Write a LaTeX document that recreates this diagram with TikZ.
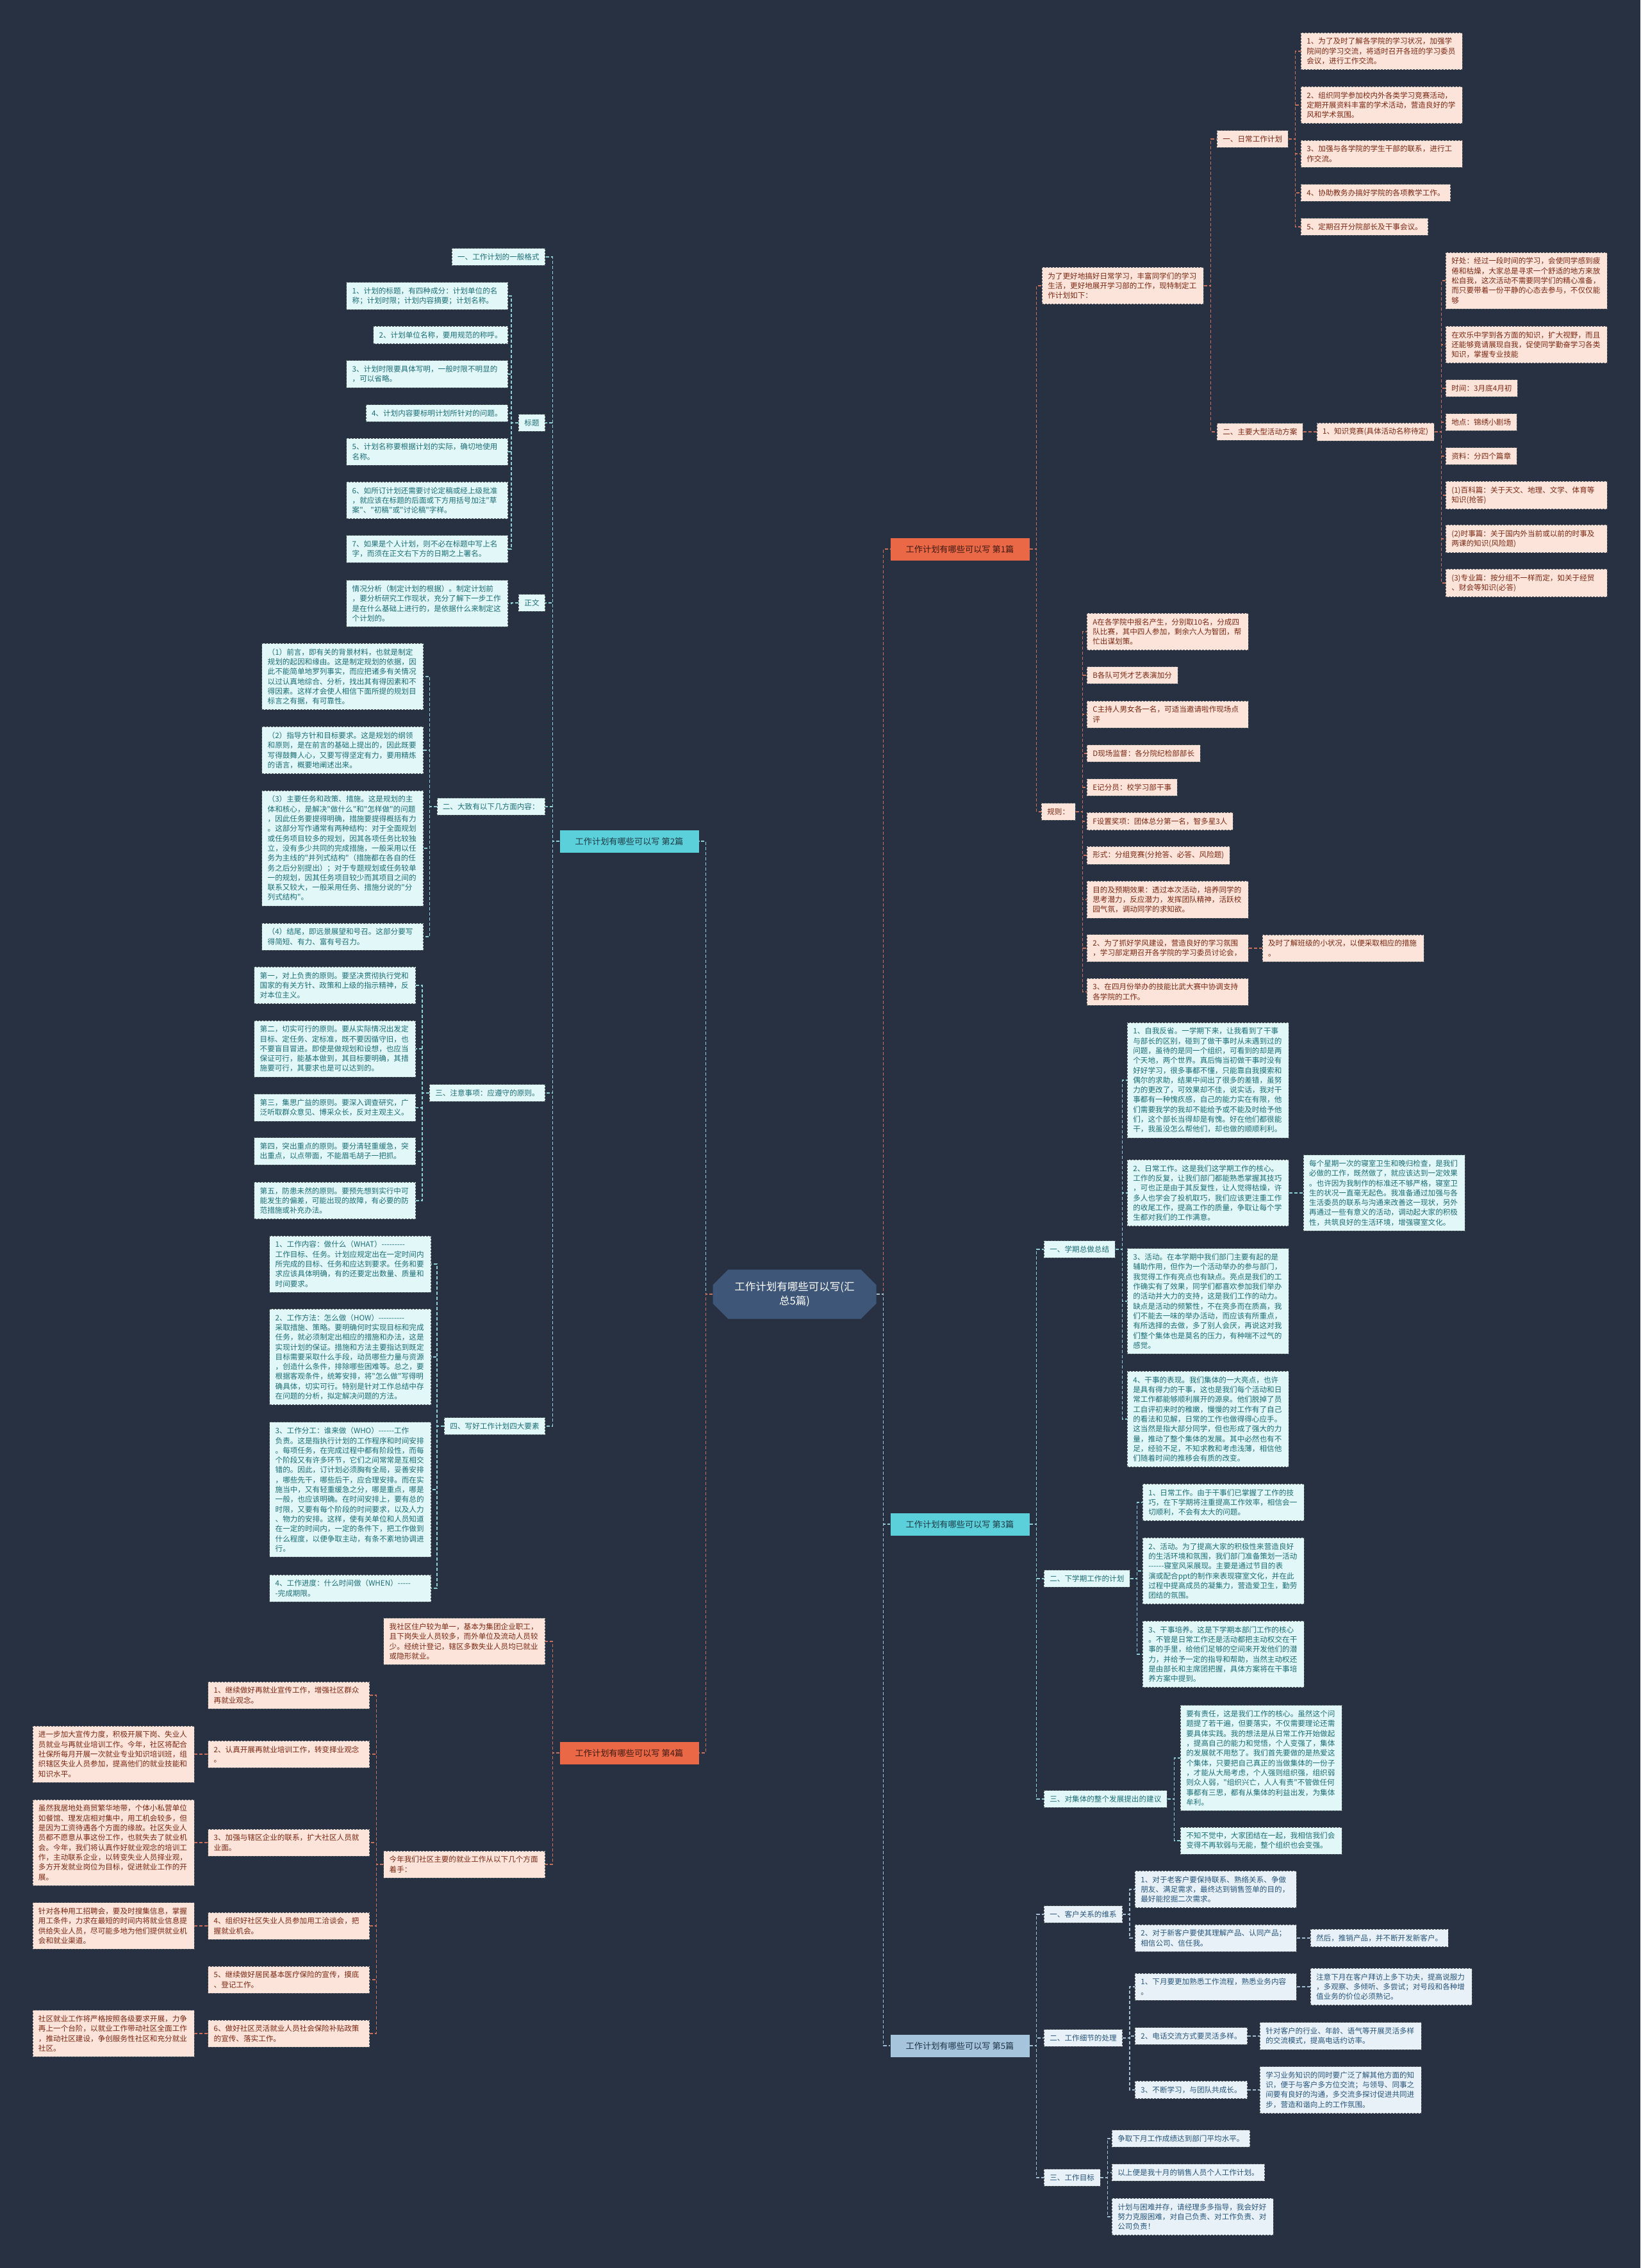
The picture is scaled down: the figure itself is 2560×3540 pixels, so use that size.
\documentclass[tikz,border=0pt]{standalone}
\usepackage{fontspec}
\usepackage{tikz}
\usetikzlibrary{positioning, shapes.misc}
\newfontfamily\cjk{Noto Sans CJK SC}
\newcommand\leaffont{\cjk\fontsize{11.6pt}{15.3pt}\selectfont}
\newcommand\topicfont{\cjk\fontsize{13.2pt}{16pt}\selectfont}
\newcommand\rootfont{\cjk\fontsize{16.5pt}{22pt}\selectfont}

\definecolor{bgc}{HTML}{283142}
\definecolor{pkfill}{HTML}{FDE4DB}
\definecolor{pktext}{HTML}{7A2812}
\definecolor{cyfill}{HTML}{E2F7F8}
\definecolor{cytext}{HTML}{1B6E76}
\definecolor{blfill}{HTML}{E8F1F7}
\definecolor{bltext}{HTML}{27557C}
\definecolor{boxline}{HTML}{4F565E}
\definecolor{lineO}{HTML}{C9705A}
\definecolor{lineC}{HTML}{8CCFD5}
\definecolor{lineB}{HTML}{A3BED3}
\definecolor{topO}{HTML}{EA6846}
\definecolor{topOt}{HTML}{3D1A12}
\definecolor{topC}{HTML}{5CD0DA}
\definecolor{topCt}{HTML}{1D3A44}
\definecolor{topB}{HTML}{A6C4DC}
\definecolor{topBt}{HTML}{1E3448}
\definecolor{rootc}{HTML}{3E5677}

\begin{document}
\begin{tikzpicture}[x=1pt, y=-1pt,
    leaf/.style={font=\leaffont, align=left, inner xsep=9pt, inner ysep=8pt, draw=boxline, dash pattern=on 3pt off 2pt, line width=0.7pt},
    wide/.style={text width=234pt},
    pk/.style={leaf, fill=pkfill, text=pktext},
    cy/.style={leaf, fill=cyfill, text=cytext},
    bl/.style={leaf, fill=blfill, text=bltext},
    topic/.style={font=\topicfont, minimum width=217pt, minimum height=35pt, inner sep=0pt},
    root/.style={chamfered rectangle, chamfered rectangle xsep=12pt, chamfered rectangle ysep=12pt, fill=rootc, text=white, font=\rootfont, align=center, minimum width=255pt, minimum height=77pt},
    elbR/.style={to path={(\tikztostart.east) -- ++(11pt,0) |- (\tikztotarget.west)}},
    elbL/.style={to path={(\tikztostart.west) -- ++(-11pt,0) |- (\tikztotarget.east)}},
    lnO/.style={color=lineO, dash pattern=on 5pt off 3pt, line width=1.3pt},
    lnC/.style={color=lineC, dash pattern=on 5pt off 3pt, line width=1.3pt},
    lnB/.style={color=lineB, dash pattern=on 5pt off 3pt, line width=1.3pt}]

  % background
  \fill[bgc] (0,0) rectangle (2560,3540);

  % Root and the five articles
  \node[root] (root) at (1240,2020) {工作计划有哪些可以写(汇\\总5篇)};
  \node[topic, fill=topO, text=topOt] (b1) at (1498,857) {工作计划有哪些可以写 第1篇};
  \node[topic, fill=topC, text=topCt] (b2) at (982,1313) {工作计划有哪些可以写 第2篇};
  \node[topic, fill=topC, text=topCt] (b3) at (1498,2379) {工作计划有哪些可以写 第3篇};
  \node[topic, fill=topO, text=topOt] (b4) at (982,2736) {工作计划有哪些可以写 第4篇};
  \node[topic, fill=topB, text=topBt] (b5) at (1498,3193) {工作计划有哪些可以写 第5篇};

  % Article 1 (study department)
  \node[pk, wide, anchor=west] (b1i) at (1626,446) {为了更好地搞好日常学习，丰富同学们的学习\\生活，更好地展开学习部的工作，现特制定工\\作计划如下：};
  \node[pk, anchor=west] (b1d) at (1899,217) {一、日常工作计划};
  \node[pk, wide, anchor=west] (b1d1) at (2030,80) {1、为了及时了解各学院的学习状况，加强学\\院间的学习交流，将适时召开各班的学习委员\\会议，进行工作交流。};
  \node[pk, wide, anchor=west] (b1d2) at (2030,164) {2、组织同学参加校内外各类学习竞赛活动，\\定期开展资料丰富的学术活动，营造良好的学\\风和学术氛围。};
  \node[pk, wide, anchor=west] (b1d3) at (2030,240) {3、加强与各学院的学生干部的联系，进行工\\作交流。};
  \node[pk, anchor=west] (b1d4) at (2030,301) {4、协助教务办搞好学院的各项教学工作。};
  \node[pk, anchor=west] (b1d5) at (2030,354) {5、定期召开分院部长及干事会议。};
  \node[pk, anchor=west] (b1m) at (1899,674) {二、主要大型活动方案};
  \node[pk] (b1q) [right=21pt of b1m] {1、知识竞赛(具体活动名称待定)};
  \node[pk, wide, anchor=west] (b1q1) at (2256,438) {好处：经过一段时间的学习，会使同学感到疲\\倦和枯燥，大家总是寻求一个舒适的地方来放\\松自我，这次活动不需要同学们的精心准备，\\而只要带着一份平静的心态去参与，不仅仅能\\够};
  \node[pk, wide, anchor=west] (b1q2) at (2256,538) {在欢乐中学到各方面的知识，扩大视野，而且\\还能够竟请展现自我，促使同学勤奋学习各类\\知识，掌握专业技能};
  \node[pk, anchor=west] (b1q3) at (2256,606) {时间：3月底4月初};
  \node[pk, anchor=west] (b1q4) at (2256,659) {地点：锦绣小剧场};
  \node[pk, anchor=west] (b1q5) at (2256,712) {资料：分四个篇章};
  \node[pk, wide, anchor=west] (b1q6) at (2256,773) {(1)百科篇：关于天文、地理、文学、体育等\\知识(抢答)};
  \node[pk, wide, anchor=west] (b1q7) at (2256,841) {(2)时事篇：关于国内外当前或以前的时事及\\两课的知识(风险题)};
  \node[pk, wide, anchor=west] (b1q8) at (2256,910) {(3)专业篇：按分组不一样而定，如关于经贸\\、财会等知识(必答)};
  \node[pk, anchor=west] (b1r) at (1625,1267) {规则：};
  \node[pk, wide, anchor=west] (b1r1) at (1696,986) {A在各学院中报名产生，分别取10名，分成四\\队比赛，其中四人参加，剩余六人为智团，帮\\忙出谋划策。};
  \node[pk, anchor=west] (b1r2) at (1696,1054) {B各队可凭才艺表演加分};
  \node[pk, wide, anchor=west] (b1r3) at (1696,1115) {C主持人男女各一名，可适当邀请啦作现场点\\评};
  \node[pk, anchor=west] (b1r4) at (1696,1176) {D现场监督：各分院纪检部部长};
  \node[pk, anchor=west] (b1r5) at (1696,1229) {E记分员：校学习部干事};
  \node[pk, anchor=west] (b1r6) at (1696,1282) {F设置奖项：团体总分第一名，智多星3人};
  \node[pk, anchor=west] (b1r7) at (1696,1335) {形式：分组竞赛(分抢答、必答、风险题)};
  \node[pk, wide, anchor=west] (b1r8) at (1696,1404) {目的及预期效果：透过本次活动，培养同学的\\思考潜力，反应潜力，发挥团队精神，活跃校\\园气氛，调动同学的求知欲。};
  \node[pk, wide, anchor=west] (b1r9) at (1696,1480) {2、为了抓好学风建设，营造良好的学习氛围\\，学习部定期召开各学院的学习委员讨论会，};
  \node[pk, wide] (b1r9x) [right=21pt of b1r9] {及时了解班级的小状况，以便采取相应的措施\\。};
  \node[pk, wide, anchor=west] (b1r10) at (1696,1548) {3、在四月份举办的技能比武大赛中协调支持\\各学院的工作。};

  % Article 2 (how to write a plan)
  \node[cy, anchor=east] (b2f) at (851,401) {一、工作计划的一般格式};
  \node[cy, anchor=east] (b2t) at (851,660) {标题};
  \node[cy, wide, anchor=east] (b2t1) at (793,462) {1、计划的标题，有四种成分：计划单位的名\\称；计划时限；计划内容摘要；计划名称。};
  \node[cy, anchor=east] (b2t2) at (793,523) {2、计划单位名称，要用规范的称呼。};
  \node[cy, wide, anchor=east] (b2t3) at (793,584) {3、计划时限要具体写明，一般时限不明显的\\，可以省略。};
  \node[cy, anchor=east] (b2t4) at (793,645) {4、计划内容要标明计划所针对的问题。};
  \node[cy, wide, anchor=east] (b2t5) at (793,705) {5、计划名称要根据计划的实际，确切地使用\\名称。};
  \node[cy, wide, anchor=east] (b2t6) at (793,781) {6、如所订计划还需要讨论定稿或经上级批准\\，就应该在标题的后面或下方用括号加注"草\\案"、"初稿"或"讨论稿"字样。};
  \node[cy, wide, anchor=east] (b2t7) at (793,857) {7、如果是个人计划，则不必在标题中写上名\\字，而须在正文右下方的日期之上署名。};
  \node[cy, anchor=east] (b2b) at (851,941) {正文};
  \node[cy, wide, anchor=east] (b2b1) at (793,942) {情况分析（制定计划的根据）。制定计划前\\，要分析研究工作现状，充分了解下一步工作\\是在什么基础上进行的，是依据什么来制定这\\个计划的。};
  \node[cy, anchor=east] (b2c) at (851,1259) {二、大致有以下几方面内容：};
  \node[cy, wide, anchor=east] (b2c1) at (661,1056) {（1）前言，即有关的背景材料，也就是制定\\规划的起因和缘由。这是制定规划的依据，因\\此不能简单地罗列事实，而应把诸多有关情况\\以过认真地综合、分析，找出其有得因素和不\\得因素。这样才会使人相信下面所提的规划目\\标言之有据，有可靠性。};
  \node[cy, wide, anchor=east] (b2c2) at (661,1171) {（2）指导方针和目标要求。这是规划的纲领\\和原则，是在前言的基础上提出的，因此既要\\写得鼓舞人心，又要写得坚定有力，要用精炼\\的语言，概要地阐述出来。};
  \node[cy, wide, anchor=east] (b2c3) at (661,1324) {（3）主要任务和政策、措施。这是规划的主\\体和核心，是解决"做什么"和"怎样做"的问题\\，因此任务要提得明确，措施要提得概括有力\\。这部分写作通常有两种结构：对于全面规划\\或任务项目较多的规划，因其各项任务比较独\\立，没有多少共同的完成措施，一般采用以任\\务为主线的"并列式结构"（措施都在各自的任\\务之后分别提出）；对于专题规划或任务较单\\一的规划，因其任务项目较少而其项目之间的\\联系又较大，一般采用任务、措施分说的"分\\列式结构"。};
  \node[cy, wide, anchor=east] (b2c4) at (661,1462) {（4）结尾，即远景展望和号召。这部分要写\\得简短、有力、富有号召力。};
  \node[cy, anchor=east] (b2n) at (851,1706) {三、注意事项：应遵守的原则。};
  \node[cy, wide, anchor=east] (b2n1) at (649,1538) {第一，对上负责的原则。要坚决贯彻执行党和\\国家的有关方针、政策和上级的指示精神，反\\对本位主义。};
  \node[cy, wide, anchor=east] (b2n2) at (649,1637) {第二，切实可行的原则。要从实际情况出发定\\目标、定任务、定标准，既不要因循守旧，也\\不要盲目冒进。即使是做规划和设想，也应当\\保证可行，能基本做到，其目标要明确，其措\\施要可行，其要求也是可以达到的。};
  \node[cy, wide, anchor=east] (b2n3) at (649,1729) {第三，集思广益的原则。要深入调查研究，广\\泛听取群众意见、博采众长，反对主观主义。};
  \node[cy, wide, anchor=east] (b2n4) at (649,1797) {第四，突出重点的原则。要分清轻重缓急，突\\出重点，以点带面，不能眉毛胡子一把抓。};
  \node[cy, wide, anchor=east] (b2n5) at (649,1874) {第五，防患未然的原则。要预先想到实行中可\\能发生的偏差，可能出现的故障，有必要的防\\范措施或补充办法。};
  \node[cy, anchor=east] (b2w) at (851,2226) {四、写好工作计划四大要素};
  \node[cy, wide, anchor=east] (b2w1) at (673,1973) {1、工作内容：做什么（WHAT）-{}-{}-{}-{}-{}-{}-{}-{}-\\工作目标、任务。计划应规定出在一定时间内\\所完成的目标、任务和应达到要求。任务和要\\求应该具体明确，有的还要定出数量、质量和\\时间要求。};
  \node[cy, wide, anchor=east] (b2w2) at (673,2118) {2、工作方法：怎么做（HOW）-{}-{}-{}-{}-{}-{}-{}-{}-{}-\\采取措施、策略。要明确何时实现目标和完成\\任务，就必须制定出相应的措施和办法，这是\\实现计划的保证。措施和方法主要指达到既定\\目标需要采取什么手段，动员哪些力量与资源\\，创造什么条件，排除哪些困难等。总之，要\\根据客观条件，统筹安排，将"怎么做"写得明\\确具体，切实可行。特别是针对工作总结中存\\在问题的分析，拟定解决问题的方法。};
  \node[cy, wide, anchor=east] (b2w3) at (673,2325) {3、工作分工：谁来做（WHO）-{}-{}-{}-{}-{}-工作\\负责。这是指执行计划的工作程序和时间安排\\。每项任务，在完成过程中都有阶段性，而每\\个阶段又有许多环节，它们之间常常是互相交\\错的。因此，订计划必须胸有全局，妥善安排\\，哪些先干，哪些后干，应合理安排。而在实\\施当中，又有轻重缓急之分，哪是重点，哪是\\一般，也应该明确。在时间安排上，要有总的\\时限，又要有每个阶段的时间要求，以及人力\\、物力的安排。这样，使有关单位和人员知道\\在一定的时间内，一定的条件下，把工作做到\\什么程度，以便争取主动，有条不紊地协调进\\行。};
  \node[cy, wide, anchor=east] (b2w4) at (673,2479) {4、工作进度：什么时间做（WHEN）-{}-{}-{}-{}-\\-完成期限。};

  % Article 3 (semester summary)
  \node[cy, anchor=west] (b3s) at (1629,1950) {一、学期总做总结};
  \node[cy, wide, anchor=west] (b3s1) at (1759,1686) {1、自我反省。一学期下来，让我看到了干事\\与部长的区别，碰到了做干事时从未遇到过的\\问题，虽待的是同一个组织，可看到的却是两\\个天地，两个世界。真后悔当初做干事时没有\\好好学习，很多事都不懂，只能靠自我摸索和\\偶尔的求助，结果中间出了很多的差错，虽努\\力的更改了，可效果却不佳，说实话，我对干\\事都有一种愧疚感，自己的能力实在有限，他\\们需要我学的我却不能给予或不能及时给予他\\们，这个部长当得却是有愧。好在他们都很能\\干，我虽没怎么帮他们，却也做的顺顺利利。};
  \node[cy, wide, anchor=west] (b3s2) at (1759,1862) {2、日常工作。这是我们这学期工作的核心。\\工作的反复，让我们部门都能熟悉掌握其技巧\\，可也正是由于其反复性，让人觉得枯燥，许\\多人也学会了投机取巧，我们应该更注重工作\\的收尾工作，提高工作的质量，争取让每个学\\生都对我们的工作满意。};
  \node[cy, wide] (b3s2x) [right=22pt of b3s2] {每个星期一次的寝室卫生和晚归检查，是我们\\必做的工作，既然做了，就应该达到一定效果\\。也许因为我制作的标准还不够严格，寝室卫\\生的状况一直毫无起色。我准备通过加强与各\\生活委员的联系与沟通来改善这一现状，另外\\再通过一些有意义的活动，调动起大家的积极\\性，共筑良好的生活环境，增强寝室文化。};
  \node[cy, wide, anchor=west] (b3s3) at (1759,2031) {3、活动。在本学期中我们部门主要有起的是\\辅助作用，但作为一个活动举办的参与部门，\\我觉得工作有亮点也有缺点。亮点是我们的工\\作确实有了效果，同学们都喜欢参加我们举办\\的活动并大力的支持，这是我们工作的动力。\\缺点是活动的频繁性，不在亮多而在质高，我\\们不能去一味的举办活动，而应该有所重点，\\有所选择的去做，多了别人会厌，再说这对我\\们整个集体也是莫名的压力，有种喘不过气的\\感觉。};
  \node[cy, wide, anchor=west] (b3s4) at (1759,2215) {4、干事的表现。我们集体的一大亮点，也许\\是具有得力的干事，这也是我们每个活动和日\\常工作都能够顺利展开的源泉。他们脱掉了员\\工自评初来时的稚嫩，慢慢的对工作有了自己\\的看法和见解，日常的工作也做得得心应手。\\这当然是指大部分同学，但也形成了强大的力\\量，推动了整个集体的发展。其中必然也有不\\足，经验不足，不知求教和考虑浅薄，相信他\\们随着时间的推移会有质的改变。};
  \node[cy, anchor=west] (b3p) at (1629,2464) {二、下学期工作的计划};
  \node[cy, wide, anchor=west] (b3p1) at (1783,2345) {1、日常工作。由于干事们已掌握了工作的技\\巧，在下学期将注重提高工作效率，相信会一\\切顺利，不会有太大的问题。};
  \node[cy, wide, anchor=west] (b3p2) at (1783,2452) {2、活动。为了提高大家的积极性来营造良好\\的生活环境和氛围，我们部门准备策划一活动\\-{}-{}-{}-{}-{}-寝室风采展现。主要是通过节目的表\\演或配合ppt的制作来表现寝室文化，并在此\\过程中提高成员的凝集力，营造爱卫生，勤劳\\团结的氛围。};
  \node[cy, wide, anchor=west] (b3p3) at (1783,2582) {3、干事培养。这是下学期本部门工作的核心\\。不管是日常工作还是活动都把主动权交在干\\事的手里，给他们足够的空间来开发他们的潜\\力，并给予一定的指导和帮助，当然主动权还\\是由部长和主席团把握，具体方案将在干事培\\养方案中提到。};
  \node[cy, anchor=west] (b3j) at (1629,2808) {三、对集体的整个发展提出的建议};
  \node[cy, wide, anchor=west] (b3j1) at (1842,2744) {要有责任，这是我们工作的核心。虽然这个问\\题提了若干遍，但要落实，不仅需要理论还需\\要具体实践。我的想法是从日常工作开始做起\\，提高自己的能力和觉悟，个人变强了，集体\\的发展就不用愁了。我们首先要做的是热爱这\\个集体，只要把自己真正的当做集体的一份子\\，才能从大局考虑，个人强则组织强，组织弱\\则众人弱，"组织兴亡，人人有责"不管做任何\\事都有三思，都有从集体的利益出发，为集体\\牟利。};
  \node[cy, wide, anchor=west] (b3j2) at (1842,2873) {不知不觉中，大家团结在一起，我相信我们会\\变得不再软弱与无能，整个组织也会变强。};

  % Article 4 (community employment)
  \node[pk, wide, anchor=east] (b4a) at (851,2562) {我社区住户较为单一，基本为集团企业职工，\\且下岗失业人员较多，而外单位及流动人员较\\少。经统计登记，辖区多数失业人员均已就业\\或隐形就业。};
  \node[pk, wide, anchor=east] (b4b) at (851,2910) {今年我们社区主要的就业工作从以下几个方面\\着手：};
  \node[pk, wide, anchor=east] (b4b1) at (577,2646) {1、继续做好再就业宣传工作，增强社区群众\\再就业观念。};
  \node[pk, wide, anchor=east] (b4b2) at (577,2738) {2、认真开展再就业培训工作，转变择业观念\\。};
  \node[pk, wide] (b4b2x) [left=21pt of b4b2] {进一步加大宣传力度，积极开展下岗、失业人\\员就业与再就业培训工作。今年，社区将配合\\社保所每月开展一次就业专业知识培训班，组\\织辖区失业人员参加，提高他们的就业技能和\\知识水平。};
  \node[pk, wide, anchor=east] (b4b3) at (577,2876) {3、加强与辖区企业的联系，扩大社区人员就\\业面。};
  \node[pk, wide] (b4b3x) [left=21pt of b4b3] {虽然我居地处商贸繁华地带，个体小私营单位\\如餐馆、理发店相对集中，用工机会较多，但\\是因为工资待遇各个方面的缘故。社区失业人\\员都不愿意从事这份工作，也就失去了就业机\\会。今年，我们将认真作好就业观念的培训工\\作，主动联系企业，以转变失业人员择业观，\\多方开发就业岗位为目标，促进就业工作的开\\展。};
  \node[pk, wide, anchor=east] (b4b4) at (577,3006) {4、组织好社区失业人员参加用工洽谈会，把\\握就业机会。};
  \node[pk, wide] (b4b4x) [left=21pt of b4b4] {针对各种用工招聘会，要及时搜集信息，掌握\\用工条件，力求在最短的时间内将就业信息提\\供给失业人员，尽可能多地为他们提供就业机\\会和就业渠道。};
  \node[pk, wide, anchor=east] (b4b5) at (577,3090) {5、继续做好居民基本医疗保险的宣传，摸底\\、登记工作。};
  \node[pk, wide, anchor=east] (b4b6) at (577,3174) {6、做好社区灵活就业人员社会保险补贴政策\\的宣传、落实工作。};
  \node[pk, wide] (b4b6x) [left=21pt of b4b6] {社区就业工作将严格按照各级要求开展，力争\\再上一个台阶，以就业工作带动社区全面工作\\，推动社区建设，争创服务性社区和充分就业\\社区。};

  % Article 5 (sales plan)
  \node[bl, anchor=west] (b5k) at (1629,2988) {一、客户关系的维系};
  \node[bl, wide, anchor=west] (b5k1) at (1771,2949) {1、对于老客户要保持联系、熟络关系、争做\\朋友、满足需求，最终达到销售签单的目的，\\最好能挖掘二次需求。};
  \node[bl, wide, anchor=west] (b5k2) at (1771,3025) {2、对于新客户要使其理解产品、认同产品；\\相信公司、信任我。};
  \node[bl] (b5k2x) [right=21pt of b5k2] {然后，推销产品，并不断开发新客户。};
  \node[bl, anchor=west] (b5d) at (1629,3181) {二、工作细节的处理};
  \node[bl, wide, anchor=west] (b5d1) at (1771,3101) {1、下月要更加熟悉工作流程，熟悉业务内容\\。};
  \node[bl, wide] (b5d1x) [right=21pt of b5d1] {注意下月在客户拜访上多下功夫，提高说服力\\，多观察、多倾听、多尝试；对号段和各种增\\值业务的价位必须熟记。};
  \node[bl, anchor=west] (b5d2) at (1771,3178) {2、电话交流方式要灵活多样。};
  \node[bl, wide] (b5d2x) [right=19pt of b5d2] {针对客户的行业、年龄、语气等开展灵活多样\\的交流模式，提高电话约访率。};
  \node[bl, anchor=west] (b5d3) at (1771,3262) {3、不断学习，与团队共成长。};
  \node[bl, wide] (b5d3x) [right=19pt of b5d3] {学习业务知识的同时要广泛了解其他方面的知\\识，便于与客户多方位交流；与领导、同事之\\间要有良好的沟通，多交流多探讨促进共同进\\步，营造和谐向上的工作氛围。};
  \node[bl, anchor=west] (b5g) at (1629,3399) {三、工作目标};
  \node[bl, anchor=west] (b5g1) at (1735,3338) {争取下月工作成绩达到部门平均水平。};
  \node[bl, anchor=west] (b5g2) at (1735,3391) {以上便是我十月的销售人员个人工作计划。};
  \node[bl, wide, anchor=west] (b5g3) at (1735,3460) {计划与困难并存，请经理多多指导，我会好好\\努力克服困难，对自己负责、对工作负责、对\\公司负责！};

  % Links, article 1
  \path[lnO] (root) edge[elbR] (b1)
        (b1) edge[elbR] (b1i)
        (b1) edge[elbR] (b1r)
        (b1i) edge[elbR] (b1d)
        (b1i) edge[elbR] (b1m)
        (b1d) edge[elbR] (b1d1)
        (b1d) edge[elbR] (b1d2)
        (b1d) edge[elbR] (b1d3)
        (b1d) edge[elbR] (b1d4)
        (b1d) edge[elbR] (b1d5)
        (b1m) edge[elbR] (b1q)
        (b1q) edge[elbR] (b1q1)
        (b1q) edge[elbR] (b1q2)
        (b1q) edge[elbR] (b1q3)
        (b1q) edge[elbR] (b1q4)
        (b1q) edge[elbR] (b1q5)
        (b1q) edge[elbR] (b1q6)
        (b1q) edge[elbR] (b1q7)
        (b1q) edge[elbR] (b1q8)
        (b1r) edge[elbR] (b1r1)
        (b1r) edge[elbR] (b1r2)
        (b1r) edge[elbR] (b1r3)
        (b1r) edge[elbR] (b1r4)
        (b1r) edge[elbR] (b1r5)
        (b1r) edge[elbR] (b1r6)
        (b1r) edge[elbR] (b1r7)
        (b1r) edge[elbR] (b1r8)
        (b1r) edge[elbR] (b1r9)
        (b1r) edge[elbR] (b1r10)
        (b1r9) edge[elbR] (b1r9x)
        ;

  % Links, article 2
  \path[lnC] (root) edge[elbL] (b2)
        (b2) edge[elbL] (b2f)
        (b2) edge[elbL] (b2t)
        (b2) edge[elbL] (b2b)
        (b2) edge[elbL] (b2c)
        (b2) edge[elbL] (b2n)
        (b2) edge[elbL] (b2w)
        (b2t) edge[elbL] (b2t1)
        (b2t) edge[elbL] (b2t2)
        (b2t) edge[elbL] (b2t3)
        (b2t) edge[elbL] (b2t4)
        (b2t) edge[elbL] (b2t5)
        (b2t) edge[elbL] (b2t6)
        (b2t) edge[elbL] (b2t7)
        (b2b) edge[elbL] (b2b1)
        (b2c) edge[elbL] (b2c1)
        (b2c) edge[elbL] (b2c2)
        (b2c) edge[elbL] (b2c3)
        (b2c) edge[elbL] (b2c4)
        (b2n) edge[elbL] (b2n1)
        (b2n) edge[elbL] (b2n2)
        (b2n) edge[elbL] (b2n3)
        (b2n) edge[elbL] (b2n4)
        (b2n) edge[elbL] (b2n5)
        (b2w) edge[elbL] (b2w1)
        (b2w) edge[elbL] (b2w2)
        (b2w) edge[elbL] (b2w3)
        (b2w) edge[elbL] (b2w4)
        ;

  % Links, article 3
  \path[lnC] (root) edge[elbR] (b3)
        (b3) edge[elbR] (b3s)
        (b3) edge[elbR] (b3p)
        (b3) edge[elbR] (b3j)
        (b3s) edge[elbR] (b3s1)
        (b3s) edge[elbR] (b3s2)
        (b3s) edge[elbR] (b3s3)
        (b3s) edge[elbR] (b3s4)
        (b3s2) edge[elbR] (b3s2x)
        (b3p) edge[elbR] (b3p1)
        (b3p) edge[elbR] (b3p2)
        (b3p) edge[elbR] (b3p3)
        (b3j) edge[elbR] (b3j1)
        (b3j) edge[elbR] (b3j2)
        ;

  % Links, article 4
  \path[lnO] (root) edge[elbL] (b4)
        (b4) edge[elbL] (b4a)
        (b4) edge[elbL] (b4b)
        (b4b) edge[elbL] (b4b1)
        (b4b) edge[elbL] (b4b2)
        (b4b) edge[elbL] (b4b3)
        (b4b) edge[elbL] (b4b4)
        (b4b) edge[elbL] (b4b5)
        (b4b) edge[elbL] (b4b6)
        (b4b2) edge[elbL] (b4b2x)
        (b4b3) edge[elbL] (b4b3x)
        (b4b4) edge[elbL] (b4b4x)
        (b4b6) edge[elbL] (b4b6x)
        ;

  % Links, article 5
  \path[lnB] (root) edge[elbR] (b5)
        (b5) edge[elbR] (b5k)
        (b5) edge[elbR] (b5d)
        (b5) edge[elbR] (b5g)
        (b5k) edge[elbR] (b5k1)
        (b5k) edge[elbR] (b5k2)
        (b5k2) edge[elbR] (b5k2x)
        (b5d) edge[elbR] (b5d1)
        (b5d) edge[elbR] (b5d2)
        (b5d) edge[elbR] (b5d3)
        (b5d1) edge[elbR] (b5d1x)
        (b5d2) edge[elbR] (b5d2x)
        (b5d3) edge[elbR] (b5d3x)
        (b5g) edge[elbR] (b5g1)
        (b5g) edge[elbR] (b5g2)
        (b5g) edge[elbR] (b5g3)
        ;
\end{tikzpicture}
\end{document}
